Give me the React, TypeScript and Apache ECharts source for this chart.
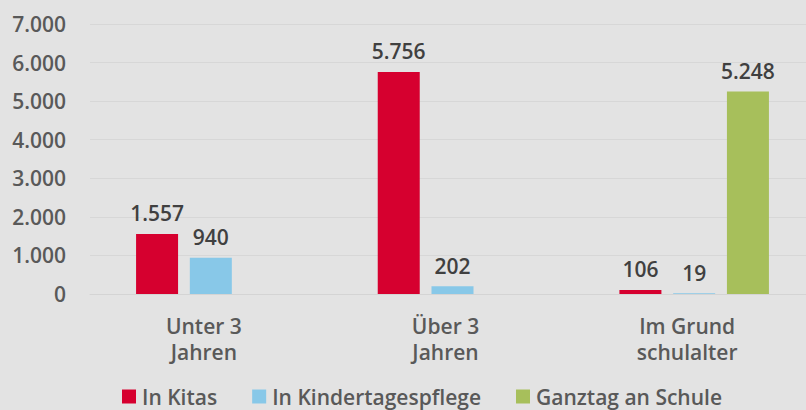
import React, { useEffect, useRef } from "react";
import * as echarts from "echarts";

const categories = ["Unter 3\nJahren", "Über 3\nJahren", "Im Grund\nschulalter"];
const seriesNames = ["In Kitas", "In Kindertagespflege", "Ganztag an Schule"];
const kitas = [1557, 5756, 106];
const pflege = [940, 202, 19];
const ganztag = [null, null, 5248];
const colors = ["#d6002f", "#88c8e8", "#a7bf5b"];

const fmt = (v: number) => v.toLocaleString("de-DE");
const FONT = "'Open Sans', 'Noto Sans', sans-serif";
const W = 600;

export default function App() {
  const ref = useRef<HTMLDivElement>(null);
  useEffect(() => {
    if (!ref.current) return;
    const chart = echarts.init(ref.current, null, { renderer: "svg" });
    const data = [kitas, pflege, ganztag];
    chart.setOption({
      animation: false,
      backgroundColor: "#e3e3e3",
      textStyle: { fontFamily: FONT },
      grid: { left: 90, right: 1, top: 24, bottom: 116, containLabel: false },
      legend: {
        bottom: -2,
        left: 117,
        itemWidth: 14,
        itemHeight: 14,
        itemGap: 35,
        icon: "rect",
        textStyle: { fontFamily: FONT, fontSize: 21, fontWeight: W, color: "#595959", padding: [0, 0, 0, 1] },
        data: seriesNames,
      },
      xAxis: {
        type: "category",
        data: categories,
        axisLine: { show: true, lineStyle: { color: "#d4d4d4", width: 1 } },
        axisTick: { show: false },
        axisLabel: {
          fontFamily: FONT,
          fontSize: 21,
          fontWeight: W,
          color: "#595959",
          lineHeight: 26,
          margin: 19,
          padding: [0, 14, 0, 0],
        },
      },
      yAxis: {
        type: "value",
        min: 0,
        max: 7000,
        interval: 1000,
        axisLine: { show: false },
        axisTick: { show: false },
        splitLine: { lineStyle: { color: "#d7d7d7", width: 1 } },
        axisLabel: {
          fontFamily: FONT,
          fontSize: 21,
          fontWeight: W,
          color: "#595959",
          margin: 24,
          formatter: (v: number) => fmt(v),
        },
      },
      series: seriesNames.map((name, i) => ({
        name,
        type: "bar",
        data: data[i],
        barWidth: 42,
        barGap: "28%",
        itemStyle: { color: colors[i] },
        label: {
          show: true,
          position: "top",
          distance: 10,
          fontFamily: FONT,
          fontSize: 21,
          fontWeight: W,
          color: "#404040",
          formatter: (p: any) => fmt(p.value),
        },
      })),
    });
    return () => chart.dispose();
  }, []);
  return (
    <div
      ref={ref}
      style={{ position: "fixed", left: 0, top: 0, width: 816, height: 410 }}
    />
  );
}
